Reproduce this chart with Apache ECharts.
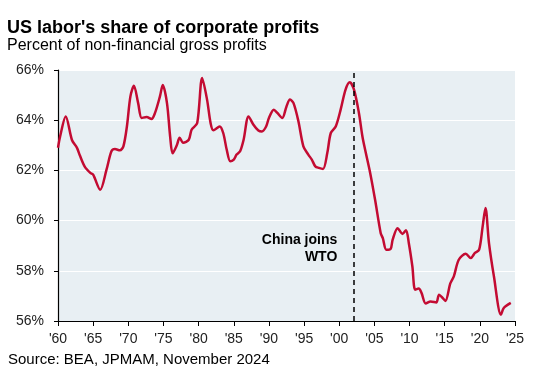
<!DOCTYPE html>
<html>
<head>
<meta charset="utf-8">
<script src="https://cdn.jsdelivr.net/npm/echarts@6/dist/echarts.min.js"></script>
<style>
html,body{margin:0;padding:0;background:#fff;}
#c{width:545px;height:374px;}
</style>
</head>
<body>
<div id="c"></div>
<script>
const titleText = "US labor's share of corporate profits";
const subtitleText = "Percent of non-financial gross profits";
const sourceText = "Source: BEA, JPMAM, November 2024";
const annotationText = "China joins\nWTO";
const wtoYear = 2002;

const years = [1960, 1960.3, 1961.1, 1962.0, 1962.7, 1963.1, 1963.8, 1964.6, 1965.0, 1966.0,
  1966.9, 1967.6, 1968.1, 1968.8, 1969.3, 1969.8, 1970.3, 1970.8, 1971.4, 1971.9,
  1972.6, 1973.3, 1973.8, 1974.5, 1974.9, 1975.5, 1975.95, 1976.3, 1976.9, 1977.3,
  1977.8, 1978.6, 1979.0, 1979.8, 1980.5, 1981.2, 1981.7, 1982.1, 1983.0, 1983.5,
  1984.0, 1984.5, 1985.0, 1985.4, 1985.9, 1986.4, 1987.1, 1987.8, 1988.5, 1989.0,
  1989.6, 1990.0, 1990.7, 1991.2, 1991.9, 1992.5, 1993.0, 1993.5, 1994.2, 1994.9,
  1995.6, 1996.1, 1996.6, 1997.1, 1997.7, 1998.3, 1998.8, 1999.5, 2000.2, 2000.9,
  2001.5, 2002.1, 2002.8, 2003.3, 2003.7, 2004.4, 2005.1, 2005.9, 2006.2, 2006.7,
  2007.3, 2007.6, 2008.3, 2009.0, 2009.5, 2009.9, 2010.4, 2010.8, 2011.3, 2011.7,
  2012.3, 2013.0, 2013.8, 2014.2, 2014.7, 2015.1, 2015.8, 2016.3, 2017.0, 2018.0,
  2018.7, 2019.3, 2019.9, 2020.4, 2020.8, 2021.3, 2022.0, 2023.0, 2023.4, 2024.4];

const laborShare = [62.9, 63.35, 64.15, 63.2, 62.9, 62.6, 62.15, 61.9, 61.83, 61.23,
  62.03, 62.76, 62.85, 62.8, 62.96, 63.75, 64.95, 65.37, 64.68, 64.09,
  64.13, 64.05, 64.29, 64.95, 65.4, 64.68, 63.35, 62.68, 63.0, 63.3,
  63.1, 63.22, 63.62, 63.89, 65.68, 64.82, 63.89, 63.6, 63.75, 63.49,
  62.82, 62.36, 62.43, 62.63, 62.76, 63.22, 64.15, 63.82, 63.59, 63.55,
  63.75, 64.09, 64.42, 64.29, 64.09, 64.55, 64.82, 64.68, 63.95, 62.96,
  62.63, 62.43, 62.16, 62.1, 62.06, 62.69, 63.49, 63.75, 64.42, 65.22,
  65.51, 65.22, 64.29, 63.35, 62.8, 61.9, 60.83, 59.5, 59.3, 58.84,
  58.87, 59.24, 59.7, 59.47, 59.62, 59.1, 58.18, 57.25, 57.29, 57.12,
  56.7, 56.78, 56.74, 57.05, 56.92, 56.8, 57.5, 57.78, 58.44, 58.68,
  58.51, 58.71, 58.84, 59.77, 60.5, 59.1, 57.78, 56.25, 56.52, 56.72];

const yTicks = {min: 56, max: 66, interval: 2};
const xTicks = {min: 1960, max: 2025, interval: 5};

const FONT = '"Liberation Sans", Arial, sans-serif';
const chart = echarts.init(document.getElementById('c'));

const seriesData = years.map((y, i) => [y, laborShare[i]]);

chart.setOption({
  animation: false,
  textStyle: {fontFamily: FONT},
  title: [
    {text: titleText, left: 7, top: 19, padding: 0, textStyle: {fontFamily: FONT, fontSize: 18, fontWeight: 'bold', color: '#000'}},
    {text: subtitleText, left: 7, top: 38, padding: 0, textStyle: {fontFamily: FONT, fontSize: 16, fontWeight: 'normal', color: '#000'}},
    {text: sourceText, left: 8, top: 352, padding: 0, textStyle: {fontFamily: FONT, fontSize: 15, fontWeight: 'normal', color: '#000'}}
  ],
  grid: {left: 58, right: 30, top: 70, bottom: 53, show: true, backgroundColor: '#e8eff3', borderWidth: 0},
  xAxis: {
    type: 'value', min: xTicks.min, max: xTicks.max, interval: xTicks.interval,
    axisLine: {show: true, lineStyle: {color: '#000', width: 1.2}},
    axisTick: {show: true, length: 5, lineStyle: {color: '#000'}},
    splitLine: {show: false},
    axisLabel: {fontFamily: FONT, fontSize: 14, color: '#222', margin: 11,
      formatter: v => "'" + String(v).slice(2)}
  },
  yAxis: {
    type: 'value', min: yTicks.min, max: yTicks.max, interval: yTicks.interval,
    axisLine: {show: true, lineStyle: {color: '#000', width: 1.2}},
    axisTick: {show: true, length: 4, lineStyle: {color: '#000'}},
    splitLine: {show: true, lineStyle: {color: '#ffffff', width: 1}},
    axisLabel: {fontFamily: FONT, fontSize: 14, color: '#222', margin: 14,
      formatter: v => v + '%'}
  },
  series: [{
    type: 'line',
    data: seriesData,
    smooth: 0.3,
    showSymbol: false,
    lineStyle: {color: '#c30b32', width: 2.5},
    markLine: {
      silent: true, symbol: 'none',
      lineStyle: {color: '#000', type: [5, 4], width: 1.5},
      label: {show: false},
      data: [{xAxis: wtoYear}]
    }
  }]
});

const p = chart.convertToPixel({xAxisIndex: 0, yAxisIndex: 0}, [wtoYear, 59.3]);
chart.setOption({
  graphic: [{
    type: 'text', x: p[0] - 16, y: p[1] - 7,
    style: {text: annotationText, font: 'bold 14px ' + FONT, fill: '#000', align: 'right', verticalAlign: 'top', lineHeight: 17},
    z: 100
  }]
});
</script>
</body>
</html>
